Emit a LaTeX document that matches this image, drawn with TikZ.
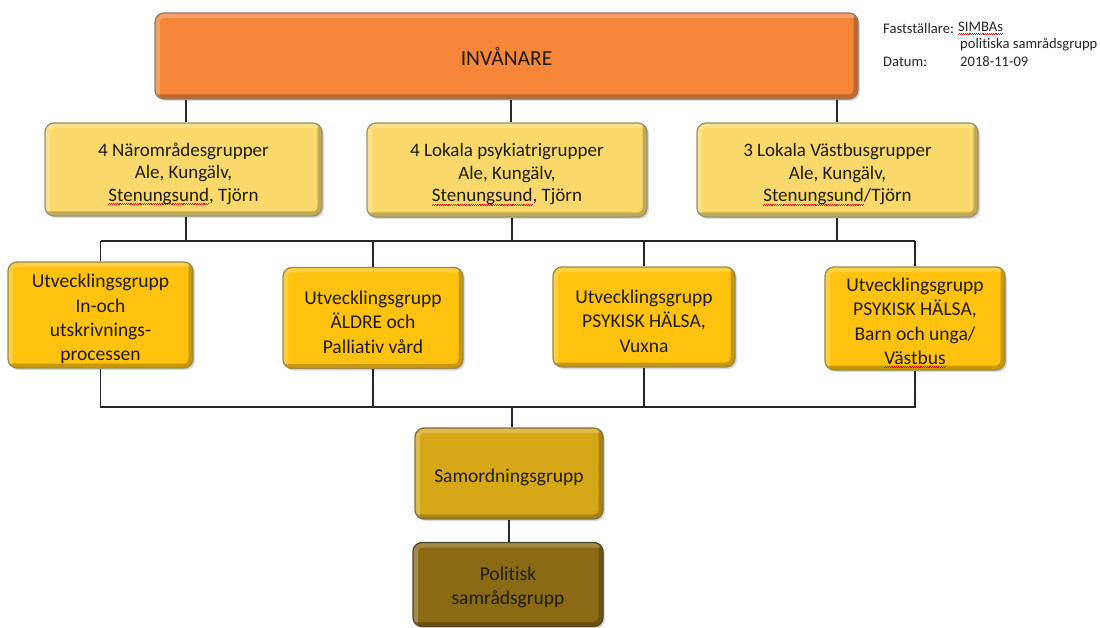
\documentclass[tikz,border=0pt]{standalone}
\usepackage{fontspec}
\setmainfont{Carlito}[Ligatures=NoCommon]
\usetikzlibrary{shadows}
\definecolor{topfill}{HTML}{F5863A}
\definecolor{topdraw}{HTML}{8E7A6A}
\definecolor{lyfill}{HTML}{F9D96B}
\definecolor{lydraw}{HTML}{9A9270}
\definecolor{gofill}{HTML}{FFC20E}
\definecolor{godraw}{HTML}{9A8A50}
\definecolor{smfill}{HTML}{D6A817}
\definecolor{smdraw}{HTML}{7E6E40}
\definecolor{plfill}{HTML}{8A6A12}
\definecolor{pldraw}{HTML}{4E4430}
\definecolor{txt}{HTML}{221A04}
\newsavebox\spellbox
\newcommand\spellmark[1]{\leavevmode\sbox\spellbox{#1}\rlap{\hbox to \wd\spellbox{\xleaders\hbox{{\color{red}\rule[-3.2pt]{0.9pt}{0.5pt}\rule[-2.5pt]{0.9pt}{0.5pt}}}\hfill}}\usebox\spellbox}
\newcommand\lowstrut{\rule{0pt}{22pt}}
\newcommand\smallstrut{\rule{0pt}{19pt}}
\tikzset{
  box/.style={rounded corners=9pt, line width=1.3pt, align=center, text=txt,
    inner sep=0pt, drop shadow={opacity=0.3, shadow xshift=2pt, shadow yshift=-2pt},
    path picture={
      \draw[line width=10pt, white, opacity=0.22]
        (path picture bounding box.south west) -- (path picture bounding box.north west)
        -- (path picture bounding box.north east);
      \draw[line width=9pt, black, opacity=0.22]
        (path picture bounding box.north east) -- (path picture bounding box.south east)
        -- (path picture bounding box.south west);
    }},
  topbox/.style={box, fill=topfill, draw=topdraw, font=\fontsize{21.5}{24}\selectfont},
  lybox/.style={box, fill=lyfill, draw=lydraw, font=\fontsize{19}{22.5}\selectfont},
  gobox/.style={box, fill=gofill, draw=godraw, font=\fontsize{19.5}{24.3}\selectfont},
  smbox/.style={box, fill=smfill, draw=smdraw, font=\fontsize{19.5}{24.3}\selectfont},
  plbox/.style={box, fill=plfill, draw=pldraw, font=\fontsize{19.5}{24.3}\selectfont},
  conn/.style={line width=1.6pt, draw=black!85},
  meta/.style={anchor=west, inner sep=0pt, text=black!85, font=\fontsize{14.6}{17}\selectfont}
}
\begin{document}
\begin{tikzpicture}[x=1pt, y=-1pt]
\useasboundingbox (0,0) rectangle (1100,628);
% nodes
\node[topbox, minimum width=703pt, minimum height=86pt] (top) at (506.5,56) {INVÅNARE};
\node[lybox, minimum width=277pt, minimum height=93pt] (b1) at (183.5,169.5)
  {\lowstrut 4 Närområdesgrupper\\Ale, Kungälv,\\\spellmark{Stenungsund}, Tjörn};
\node[lybox, minimum width=280pt, minimum height=94pt] (b2) at (507,170)
  {\lowstrut 4 Lokala psykiatrigrupper\\Ale, Kungälv,\\\spellmark{Stenungsund}, Tjörn};
\node[lybox, minimum width=281pt, minimum height=94pt] (b3) at (837.5,170)
  {\lowstrut 3 Lokala Västbusgrupper\\Ale, Kungälv,\\\spellmark{Stenungsund}/Tjörn};
\node[gobox, minimum width=185pt, minimum height=106pt] (b4) at (100.5,315)
  {\lowstrut Utvecklingsgrupp\\In-och\\utskrivnings-\\processen};
\node[gobox, minimum width=180pt, minimum height=101pt] (b5) at (373,318)
  {\lowstrut Utvecklingsgrupp\\ÄLDRE och\\Palliativ vård};
\node[gobox, minimum width=182pt, minimum height=100pt] (b6) at (644,317)
  {\lowstrut Utvecklingsgrupp\\PSYKISK HÄLSA,\\Vuxna};
\node[gobox, minimum width=180pt, minimum height=103pt] (b7) at (915,318.5)
  {\lowstrut Utvecklingsgrupp\\PSYKISK HÄLSA,\\Barn och unga/\\\spellmark{Västbus}};
\node[smbox, minimum width=188pt, minimum height=91pt] (sam) at (509,473.5) {\lowstrut Samordningsgrupp};
\node[plbox, minimum width=190pt, minimum height=84pt] (pol) at (508,584.5) {\smallstrut Politisk\\samrådsgrupp};
% meta text
\node[meta] (fs) at (883,28) {Fastställare:};
\node[meta] (simba) at (958,28) {\spellmark{SIMBAs}};
\node[meta] (polg) at (960,45) {politiska samrådsgrupp};
\node[meta] (dat) at (883,62) {Datum:};
\node[meta] (date) at (960,62) {2018-11-09};
% connectors
\coordinate (busA) at (0,241);
\coordinate (busB) at (0,407);
\coordinate (c1) at (186,0);
\coordinate (c2) at (511,0);
\coordinate (c3) at (837,0);
\coordinate (cs) at (512,0);
\draw[conn] (top.south -| c1) -- (b1.north -| c1);
\draw[conn] (top.south -| c2) -- (b2.north -| c2);
\draw[conn] (top.south -| c3) -- (b3.north -| c3);
\draw[conn] (b1.south -| c1) -- (busA -| c1);
\draw[conn] (b2.south -| cs) -- (busA -| cs);
\draw[conn] (b3.south -| c3) -- (busA -| c3);
\draw[conn] (b4.north |- busA) -- (b7.north |- busA);
\draw[conn] (b4.north |- busA) -- (b4.north);
\draw[conn] (b5.north |- busA) -- (b5.north);
\draw[conn] (b6.north |- busA) -- (b6.north);
\draw[conn] (b7.north |- busA) -- (b7.north);
\draw[conn] (b4.south) -- (b4.south |- busB) -- (b7.south |- busB) -- (b7.south);
\draw[conn] (b5.south) -- (b5.south |- busB);
\draw[conn] (b6.south) -- (b6.south |- busB);
\draw[conn] (busB -| cs) -- (sam.north -| cs);
\draw[conn] (sam.south) -- (sam.south |- pol.north);
\end{tikzpicture}
\end{document}
